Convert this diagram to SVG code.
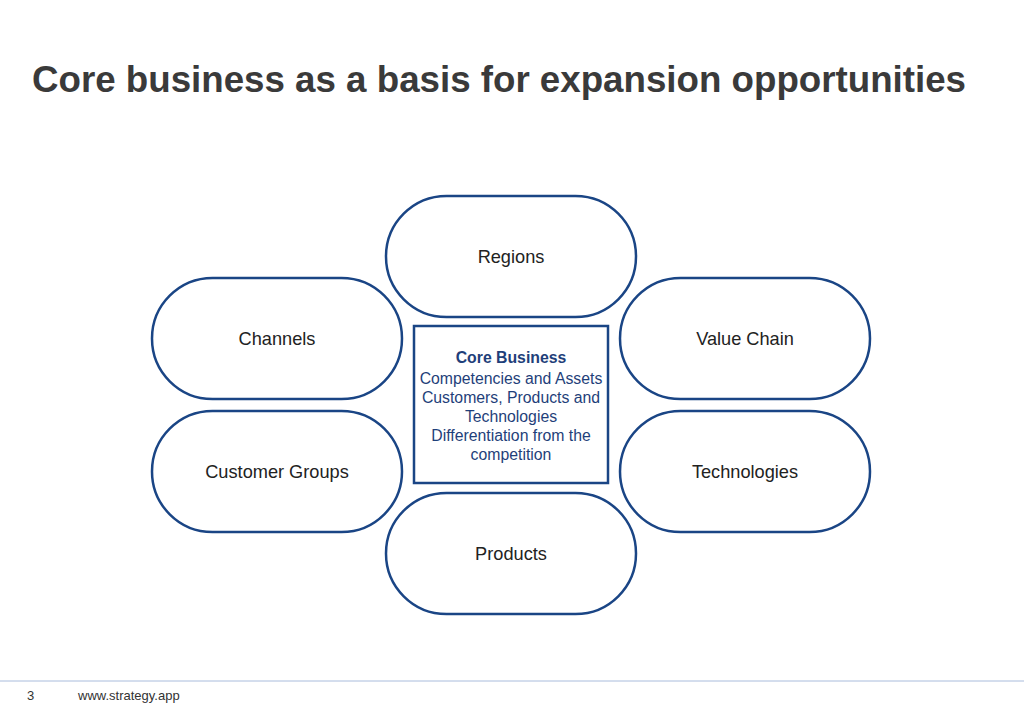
<svg xmlns="http://www.w3.org/2000/svg" width="1024" height="709" viewBox="0 0 1024 709">
<style>
.pill{fill:#fff;stroke:#1a4585;stroke-width:2.5}
.lbl{font-family:"Liberation Sans",Arial,sans-serif;font-size:18.2px;fill:#222;text-anchor:middle}
.ct{font-family:"Liberation Sans",Arial,sans-serif;font-size:15.8px;fill:#1f3f7a;text-anchor:middle}
</style>
<rect width="1024" height="709" fill="#fff"/>
<text x="32" y="92" font-family="Liberation Sans,Arial,sans-serif" font-size="36.5" font-weight="bold" fill="#3a3a3a" textLength="934" lengthAdjust="spacingAndGlyphs">Core business as a basis for expansion opportunities</text>
<g id="connectors"></g>
<g id="regions"><rect class="pill" x="386" y="196" width="250" height="121" rx="60.5"/><text class="lbl" x="511" y="263">Regions</text></g>
<g id="channels"><rect class="pill" x="152" y="278" width="250" height="121" rx="60.5"/><text class="lbl" x="277" y="345">Channels</text></g>
<g id="valuechain"><rect class="pill" x="620" y="278" width="250" height="121" rx="60.5"/><text class="lbl" x="745" y="345">Value Chain</text></g>
<g id="customergroups"><rect class="pill" x="152" y="411" width="250" height="121" rx="60.5"/><text class="lbl" x="277" y="478">Customer Groups</text></g>
<g id="technologies"><rect class="pill" x="620" y="411" width="250" height="121" rx="60.5"/><text class="lbl" x="745" y="478">Technologies</text></g>
<g id="products"><rect class="pill" x="386" y="493" width="250" height="121" rx="60.5"/><text class="lbl" x="511" y="560">Products</text></g>
<g id="core"><rect x="414" y="326" width="194" height="157" fill="#fff" stroke="#1a4585" stroke-width="2.5"/>
<text class="ct" x="511" y="363" font-weight="bold">Core Business</text>
<text class="ct" x="511" y="384">Competencies and Assets</text>
<text class="ct" x="511" y="403">Customers, Products and</text>
<text class="ct" x="511" y="422">Technologies</text>
<text class="ct" x="511" y="441">Differentiation from the</text>
<text class="ct" x="511" y="460">competition</text></g>
<line x1="0" y1="681" x2="1024" y2="681" stroke="#a9bcdc" stroke-width="1"/>
<text x="27" y="700" font-family="Liberation Sans,Arial,sans-serif" font-size="13" fill="#333">3</text>
<text x="78" y="700" font-family="Liberation Sans,Arial,sans-serif" font-size="13" fill="#333">www.strategy.app</text>
</svg>
